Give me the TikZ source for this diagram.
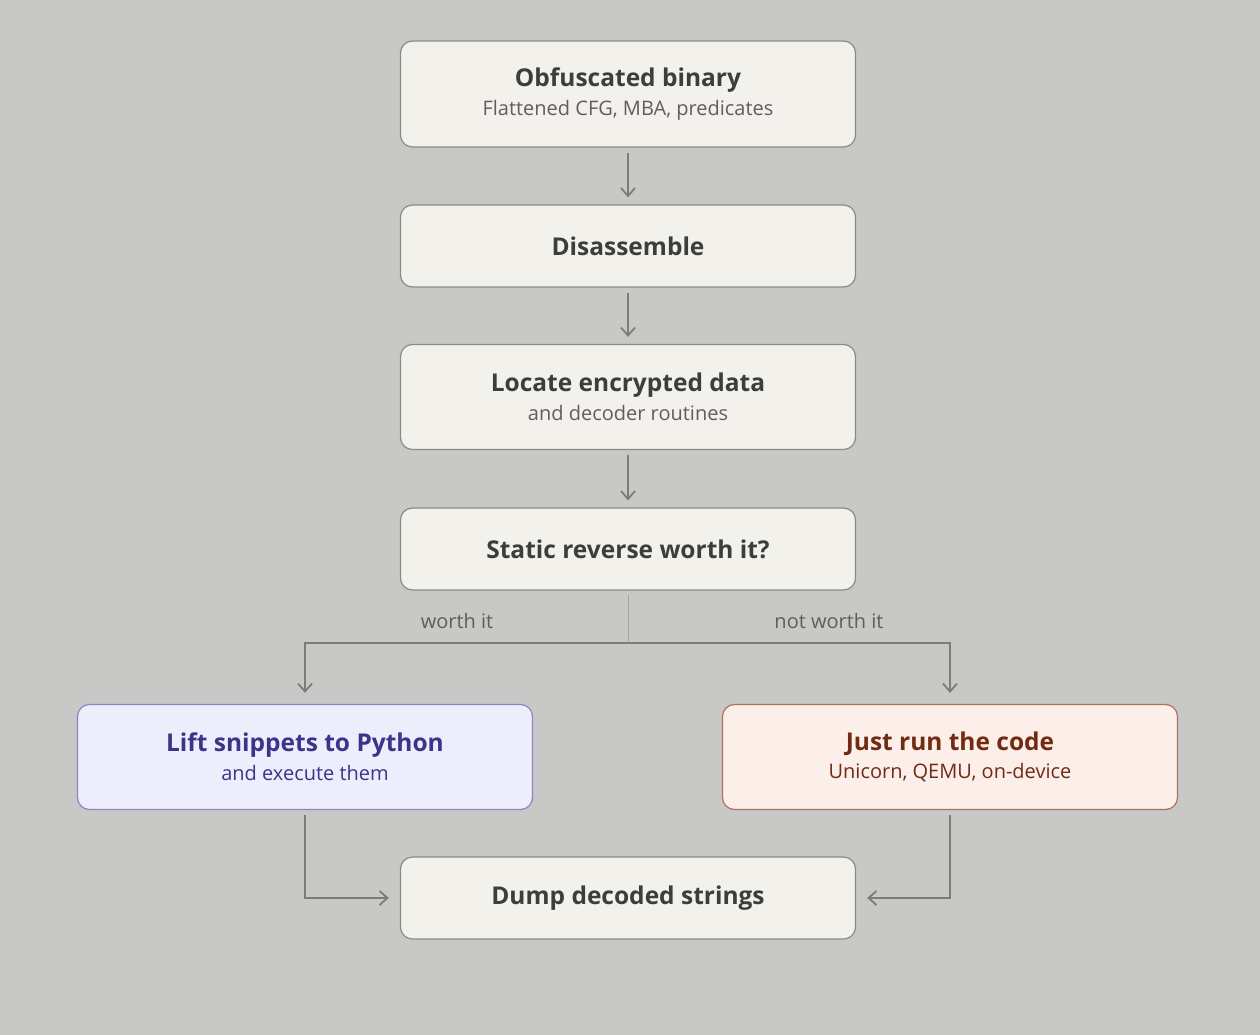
\documentclass[tikz,border=0pt]{standalone}
\usepackage{fontspec}
\setmainfont{Open Sans}
\usetikzlibrary{arrows.meta}
\definecolor{bgcol}{HTML}{C8C8C6}
\definecolor{boxfill}{HTML}{F2F1EC}
\definecolor{boxline}{HTML}{8A8A87}
\definecolor{titlecol}{HTML}{3D3D3A}
\definecolor{subcol}{HTML}{5F5E5A}
\definecolor{arrowcol}{HTML}{7C7C78}
\definecolor{liftfill}{HTML}{EEEDFC}
\definecolor{liftline}{HTML}{8B84C8}
\definecolor{lifttext}{HTML}{3C3489}
\definecolor{runfill}{HTML}{FCEEE8}
\definecolor{runline}{HTML}{B0705A}
\definecolor{runtext}{HTML}{712B13}
\tikzset{
  stage/.style={draw=boxline,fill=boxfill,rounded corners=12pt,line width=1.2pt,
    minimum width=455pt,align=center,text=titlecol,inner sep=0pt},
  edge/.style={draw=arrowcol,line width=2.2pt,-{Straight Barb[length=8pt,width=14pt,line width=1.8pt]}},
}
\newcommand{\ttl}[1]{{\fontsize{24.5}{30}\selectfont\bfseries #1}}
\newcommand{\sub}[1]{{\fontsize{20}{26}\selectfont #1}}
\begin{document}
\begin{tikzpicture}[x=1pt,y=-1pt]
  \useasboundingbox[fill=bgcol] (0,0) rectangle (1260,1035);
%%
  % Nodes
  \node[stage,minimum height=106pt] (bin) at (628,94) {\ttl{Obfuscated binary}\\[7pt]\sub{\color{subcol}Flattened CFG, MBA, predicates}};
  \node[stage,minimum height=82pt] (dis) at (628,246) {\ttl{Disassemble}};
  \node[stage,minimum height=105pt] (loc) at (628,397) {\ttl{Locate encrypted data}\\[7pt]\sub{\color{subcol}and decoder routines}};
  \node[stage,minimum height=82pt] (dec) at (628,549) {\ttl{Static reverse worth it?}};
  \node[stage,minimum height=105pt,fill=liftfill,draw=liftline,text=lifttext] (lift) at (305,757) {\ttl{Lift snippets to Python}\\[7pt]\sub{and execute them}};
  \node[stage,minimum height=105pt,fill=runfill,draw=runline,text=runtext] (run) at (950,757) {\ttl{Just run the code}\\[7pt]\sub{Unicorn, QEMU, on-device}};
  \node[stage,minimum height=82pt] (dump) at (628,898) {\ttl{Dump decoded strings}};
  \coordinate (split) at (628,643);
  % Edges
  \draw[edge,shorten <=5pt,shorten >=7pt] (bin) -- (dis);
  \draw[edge,shorten <=5pt,shorten >=7pt] (dis) -- (loc);
  \draw[edge,shorten <=5pt,shorten >=7pt] (loc) -- (dec);
  \draw[draw=arrowcol!70,line width=1pt,shorten <=4pt] (dec) -- (split);
  \draw[edge,shorten >=11pt] (split) -| (lift);
  \draw[edge,shorten >=11pt] (split) -| (run);
  \draw[edge,shorten <=5pt,shorten >=11pt] (lift) |- (dump);
  \draw[edge,shorten <=5pt,shorten >=11pt] (run) |- (dump);
  % Labels
  \node[text=subcol] (yes) at (457,621) {\sub{worth it}};
  \node[text=subcol] (no) at (829,621) {\sub{not worth it}};
%
\end{tikzpicture}
\end{document}
